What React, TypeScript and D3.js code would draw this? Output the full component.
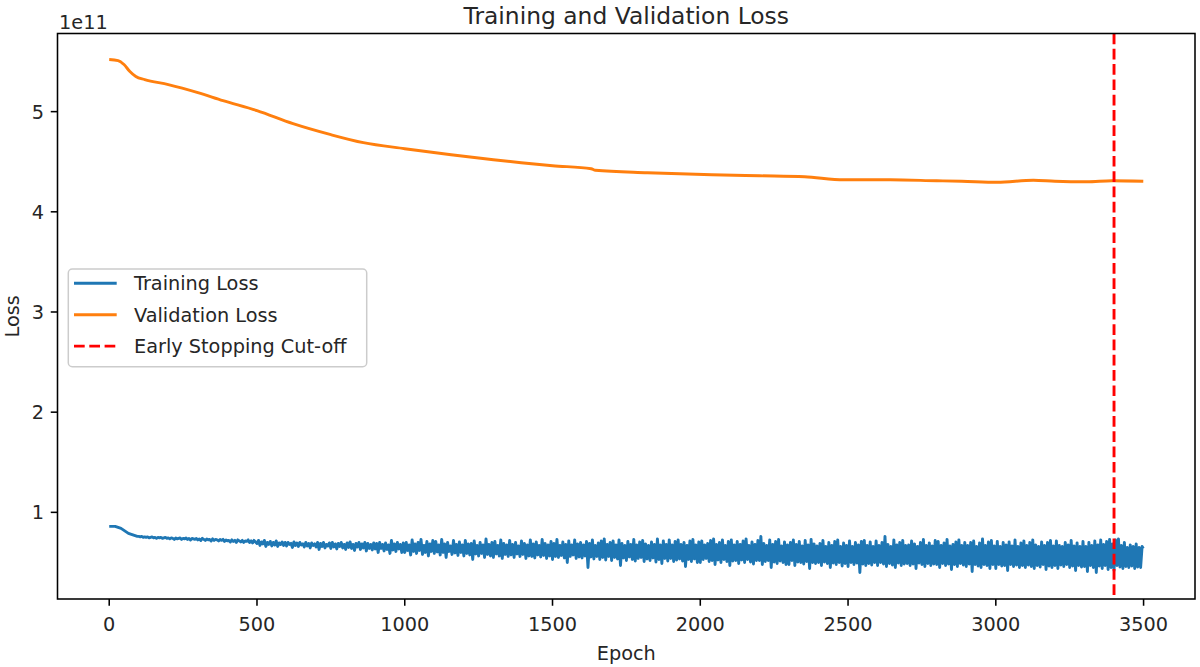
import React from "react";
import * as d3 from "d3";

// ---- Data (loss values in units of 1e11) ----
const valEpochs = [0, 30, 50, 70, 90, 120, 200, 300, 385, 500, 622, 750, 860, 1000, 1157, 1300, 1394, 1500, 1631, 1645, 1821, 2039, 2200, 2353, 2486, 2643, 2800, 2885, 3005, 3127, 3200, 3308, 3393, 3499];
const valLoss = [5.52, 5.51, 5.47, 5.40, 5.35, 5.32, 5.27, 5.19, 5.11, 5.01, 4.88, 4.77, 4.69, 4.63, 4.57, 4.52, 4.49, 4.46, 4.43, 4.415, 4.39, 4.37, 4.36, 4.35, 4.32, 4.32, 4.31, 4.305, 4.295, 4.315, 4.305, 4.30, 4.31, 4.305];

const trainStep = 5;
const trainLoss = [
  0.86, 0.86, 0.86, 0.86, 0.86, 0.855, 0.85, 0.845, 0.84, 0.83, 0.82, 0.81, 0.80, 0.79, 0.785, 0.78, 0.775, 0.77, 0.765, 0.76,
  0.76, 0.755, 0.76, 0.75, 0.755, 0.75, 0.755, 0.745, 0.75, 0.755, 0.745, 0.75, 0.74, 0.75, 0.745, 0.75, 0.74, 0.745, 0.75, 0.74,
  0.745, 0.735, 0.745, 0.74, 0.73, 0.745, 0.735, 0.74, 0.745, 0.73, 0.74, 0.735, 0.745, 0.73, 0.74, 0.725, 0.74, 0.735, 0.73, 0.74,
  0.725, 0.735, 0.72, 0.74, 0.73, 0.72, 0.735, 0.725, 0.73, 0.715, 0.735, 0.72, 0.73, 0.725, 0.715, 0.73, 0.72, 0.73, 0.71, 0.725,
  0.715, 0.72, 0.705, 0.725, 0.71, 0.72, 0.70, 0.725, 0.715, 0.705, 0.72, 0.70, 0.715, 0.71, 0.725, 0.70, 0.715, 0.695, 0.72, 0.705,
  0.69, 0.72, 0.67, 0.705, 0.685, 0.72, 0.66, 0.70, 0.68, 0.71, 0.665, 0.70, 0.675, 0.715, 0.66, 0.695, 0.68, 0.705, 0.67, 0.70,
  0.665, 0.70, 0.68, 0.69, 0.65, 0.705, 0.67, 0.695, 0.66, 0.70, 0.675, 0.685, 0.655, 0.70, 0.665, 0.69, 0.645, 0.695, 0.67, 0.685,
  0.655, 0.70, 0.63, 0.69, 0.66, 0.70, 0.645, 0.68, 0.665, 0.695, 0.64, 0.70, 0.655, 0.685, 0.635, 0.69, 0.66, 0.70, 0.645, 0.68,
  0.63, 0.695, 0.65, 0.705, 0.64, 0.68, 0.62, 0.69, 0.655, 0.70, 0.63, 0.685, 0.645, 0.70, 0.615, 0.69, 0.64, 0.68, 0.625, 0.695,
  0.635, 0.69, 0.60, 0.70, 0.64, 0.68, 0.615, 0.695, 0.63, 0.675, 0.59, 0.72, 0.625, 0.685, 0.61, 0.70, 0.635, 0.68, 0.60, 0.695,
  0.60, 0.70, 0.62, 0.675, 0.575, 0.725, 0.61, 0.685, 0.59, 0.70, 0.62, 0.73, 0.58, 0.67, 0.60, 0.71, 0.565, 0.685, 0.61, 0.72,
  0.59, 0.71, 0.605, 0.675, 0.575, 0.73, 0.60, 0.685, 0.55, 0.70, 0.61, 0.665, 0.58, 0.72, 0.595, 0.68, 0.57, 0.705, 0.60, 0.675,
  0.565, 0.72, 0.59, 0.685, 0.575, 0.69, 0.53, 0.715, 0.585, 0.67, 0.565, 0.70, 0.59, 0.675, 0.55, 0.735, 0.58, 0.68, 0.565, 0.70,
  0.55, 0.71, 0.585, 0.67, 0.565, 0.725, 0.54, 0.69, 0.58, 0.675, 0.56, 0.72, 0.575, 0.68, 0.55, 0.70, 0.585, 0.665, 0.56, 0.715,
  0.58, 0.69, 0.54, 0.675, 0.565, 0.725, 0.56, 0.685, 0.545, 0.705, 0.575, 0.67, 0.555, 0.73, 0.57, 0.69, 0.54, 0.675, 0.565, 0.71,
  0.53, 0.69, 0.56, 0.73, 0.55, 0.67, 0.57, 0.705, 0.545, 0.68, 0.50, 0.715, 0.56, 0.675, 0.575, 0.725, 0.54, 0.685, 0.555, 0.70,
  0.545, 0.675, 0.565, 0.71, 0.45, 0.69, 0.555, 0.725, 0.535, 0.67, 0.56, 0.695, 0.53, 0.715, 0.55, 0.735, 0.525, 0.68, 0.56, 0.70,
  0.52, 0.715, 0.55, 0.675, 0.535, 0.725, 0.47, 0.69, 0.545, 0.67, 0.52, 0.71, 0.555, 0.68, 0.53, 0.73, 0.515, 0.675, 0.54, 0.705,
  0.55, 0.72, 0.51, 0.685, 0.535, 0.67, 0.52, 0.705, 0.545, 0.68, 0.505, 0.735, 0.53, 0.675, 0.49, 0.715, 0.54, 0.68, 0.515, 0.725,
  0.54, 0.675, 0.51, 0.71, 0.525, 0.725, 0.535, 0.68, 0.515, 0.70, 0.46, 0.67, 0.53, 0.715, 0.51, 0.73, 0.535, 0.675, 0.50, 0.705,
  0.50, 0.715, 0.53, 0.675, 0.54, 0.69, 0.51, 0.72, 0.52, 0.735, 0.48, 0.68, 0.525, 0.70, 0.50, 0.725, 0.53, 0.67, 0.51, 0.71,
  0.47, 0.725, 0.515, 0.675, 0.52, 0.71, 0.49, 0.68, 0.525, 0.715, 0.50, 0.735, 0.53, 0.67, 0.505, 0.705, 0.485, 0.68, 0.52, 0.72,
  0.52, 0.76, 0.48, 0.69, 0.51, 0.67, 0.52, 0.725, 0.45, 0.68, 0.505, 0.71, 0.49, 0.73, 0.515, 0.665, 0.50, 0.705, 0.48, 0.675,
  0.48, 0.70, 0.52, 0.725, 0.47, 0.68, 0.505, 0.71, 0.50, 0.665, 0.485, 0.72, 0.51, 0.675, 0.44, 0.73, 0.50, 0.685, 0.49, 0.665,
  0.50, 0.69, 0.47, 0.72, 0.505, 0.66, 0.49, 0.70, 0.45, 0.67, 0.495, 0.71, 0.48, 0.725, 0.50, 0.66, 0.465, 0.695, 0.49, 0.67,
  0.46, 0.715, 0.50, 0.66, 0.48, 0.70, 0.495, 0.675, 0.40, 0.71, 0.485, 0.72, 0.47, 0.67, 0.49, 0.705, 0.475, 0.66, 0.50, 0.715,
  0.47, 0.67, 0.50, 0.70, 0.485, 0.76, 0.46, 0.68, 0.49, 0.66, 0.475, 0.725, 0.45, 0.675, 0.495, 0.70, 0.47, 0.72, 0.485, 0.67,
  0.49, 0.675, 0.47, 0.715, 0.485, 0.685, 0.44, 0.66, 0.495, 0.70, 0.48, 0.73, 0.46, 0.67, 0.49, 0.695, 0.47, 0.665, 0.485, 0.72,
  0.48, 0.71, 0.45, 0.67, 0.49, 0.695, 0.47, 0.73, 0.485, 0.665, 0.43, 0.68, 0.48, 0.705, 0.46, 0.725, 0.49, 0.67, 0.475, 0.70,
  0.46, 0.67, 0.485, 0.70, 0.41, 0.715, 0.48, 0.66, 0.465, 0.695, 0.45, 0.735, 0.48, 0.67, 0.47, 0.705, 0.44, 0.72, 0.48, 0.665,
  0.44, 0.71, 0.48, 0.66, 0.465, 0.70, 0.47, 0.675, 0.42, 0.705, 0.48, 0.665, 0.46, 0.725, 0.475, 0.66, 0.45, 0.695, 0.47, 0.715,
  0.45, 0.67, 0.475, 0.70, 0.46, 0.725, 0.44, 0.675, 0.47, 0.66, 0.455, 0.705, 0.48, 0.67, 0.43, 0.70, 0.465, 0.72, 0.45, 0.665,
  0.47, 0.715, 0.44, 0.67, 0.475, 0.66, 0.46, 0.70, 0.48, 0.675, 0.45, 0.72, 0.465, 0.665, 0.42, 0.695, 0.47, 0.66, 0.455, 0.71,
  0.46, 0.66, 0.41, 0.70, 0.47, 0.67, 0.45, 0.715, 0.40, 0.675, 0.465, 0.725, 0.44, 0.68, 0.47, 0.71, 0.43, 0.73, 0.45, 0.685,
  0.42, 0.725, 0.47, 0.735, 0.455, 0.67, 0.44, 0.70, 0.46, 0.65, 0.45, 0.675, 0.465, 0.66, 0.44, 0.685, 0.455, 0.65, 0.45, 0.66,
  0.64,
];
const lastEpoch = 3499;
const cutoffEpoch = 3400;

const xTicks = [0, 500, 1000, 1500, 2000, 2500, 3000, 3500];
const yTicks = [1, 2, 3, 4, 5];
const legendLabels = ["Training Loss", "Validation Loss", "Early Stopping Cut-off"];
const legendColors = ["#1f77b4", "#ff7f0e", "#ff0000"];
const legendDashed = [false, false, true];

const W = 1200;
const H = 667;
const left = 57.5;
const right = 1195;
const top = 33.5;
const bottom = 599;
const font = "'DejaVu Sans', sans-serif";
const fs = 19.3;

export default function App() {
  const x = d3.scaleLinear().domain([-175, 3674]).range([left, right]);
  const y = d3.scaleLinear().domain([0.135, 5.78]).range([bottom, top]);

  const trainPts: [number, number][] = trainLoss.map((v, i) => [
    i === trainLoss.length - 1 ? lastEpoch : i * trainStep,
    v,
  ]);
  const valPts: [number, number][] = valLoss.map((v, i) => [valEpochs[i], v]);

  const lineLin = d3
    .line<[number, number]>()
    .x((d) => x(d[0]))
    .y((d) => y(d[1]));
  const lineSmooth = d3
    .line<[number, number]>()
    .x((d) => x(d[0]))
    .y((d) => y(d[1]))
    .curve(d3.curveMonotoneX);

  const lw = 2.9;
  const tickLen = 6.75;
  const dash = "10.7,4.6";

  return (
    <svg
      width={W}
      height={H}
      style={{ position: "absolute", left: 0, top: 0, background: "#fff" }}
      fontFamily={font}
    >
      <rect x={0} y={0} width={W} height={H} fill="#fff" />
      <path d={lineLin(trainPts) || ""} fill="none" stroke="#1f77b4" strokeWidth={lw} strokeLinejoin="round" />
      <path d={lineSmooth(valPts) || ""} fill="none" stroke="#ff7f0e" strokeWidth={lw} strokeLinejoin="round" />
      <line
        x1={x(cutoffEpoch)}
        x2={x(cutoffEpoch)}
        y1={top}
        y2={bottom}
        stroke="#ff0000"
        strokeWidth={lw}
        strokeDasharray={dash}
      />
      <rect x={left} y={top} width={right - left} height={bottom - top} fill="none" stroke="#000" strokeWidth={1.55} />
      {xTicks.map((t) => (
        <g key={"x" + t}>
          <line x1={x(t)} x2={x(t)} y1={bottom} y2={bottom + tickLen} stroke="#000" strokeWidth={1.55} />
          <text x={x(t)} y={631} fontSize={fs} textAnchor="middle" fill="#262626">
            {t}
          </text>
        </g>
      ))}
      {yTicks.map((t) => (
        <g key={"y" + t}>
          <line x1={left - tickLen} x2={left} y1={y(t)} y2={y(t)} stroke="#000" strokeWidth={1.55} />
          <text x={44} y={y(t) + 7} fontSize={fs} textAnchor="end" fill="#262626">
            {t}
          </text>
        </g>
      ))}
      <text x={59} y={28.5} fontSize={fs} fill="#262626">1e11</text>
      <text x={(left + right) / 2} y={659.5} fontSize={fs} textAnchor="middle" fill="#262626">Epoch</text>
      <text
        transform={`translate(18.5, ${(top + bottom) / 2}) rotate(-90)`}
        fontSize={fs}
        textAnchor="middle"
        fill="#262626"
      >
        Loss
      </text>
      <text x={(left + right) / 2} y={23.5} fontSize={23.4} textAnchor="middle" fill="#262626">
        Training and Validation Loss
      </text>
      <rect x={68.3} y={269} width={298.4} height={97.7} rx={4} fill="#fff" fillOpacity={0.8} stroke="#cccccc" strokeWidth={1.5} />
      {legendLabels.map((label, i) => {
        const ly = 283.3 + i * 31.4;
        return (
          <g key={label}>
            <line
              x1={74}
              x2={116.7}
              y1={ly}
              y2={ly}
              stroke={legendColors[i]}
              strokeWidth={lw}
              strokeDasharray={legendDashed[i] ? dash : undefined}
            />
            <text x={134} y={ly + 7} fontSize={fs} fill="#262626">
              {label}
            </text>
          </g>
        );
      })}
    </svg>
  );
}
